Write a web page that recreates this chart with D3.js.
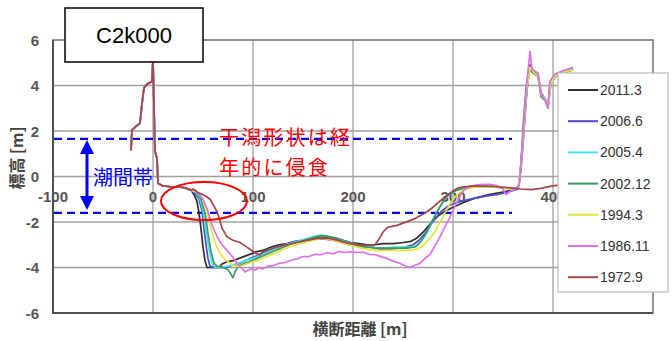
<!DOCTYPE html>
<html>
<head>
<meta charset="utf-8">
<script src="https://cdn.jsdelivr.net/npm/d3@7"></script>
<style>
  html, body { margin: 0; padding: 0; background: #fff; }
  svg { display: block; }
</style>
</head>
<body>
<svg id="chart" width="672" height="341"></svg>
<script>
// Cross-section C2k000: ground elevation [m] against cross-shore distance [m]
const sectionName = "C2k000";
const xTicks = [-100, 0, 100, 200, 300, 400];
const yTicks = [-6, -4, -2, 0, 2, 4, 6];
const seriesNames = ["2011.3", "2006.6", "2005.4", "2002.12", "1994.3", "1986.11", "1972.9"];
const seriesColors = ["#2e2e2e", "#4b4bcc", "#45e2ee", "#3f9a5e", "#e4e43c", "#e070e6", "#a4464a"];

// Intertidal zone limits [m]
const tideHigh = 1.65;
const tideLow = -1.6;

// Landward dune shared by every survey
const dune = [[-22,1.15],[-21,2.05],[-17,2.2],[-13,2.35],[-11,3.2],[-9,3.9],[-6,4.05],[-2,4.15],[-1,4.2],[0,5.15],[1,3.0],[2,1.1],[4,0.8],[5,-0.3],[9,-0.4],[17,-0.45],[25,-0.45],[32,-0.5],[38,-0.6]];

const s2011 = [[41,-0.8],[44,-1.1],[46,-1.6],[48,-2.3],[50,-3.1],[52,-3.7],[54,-4.0],[60,-4.0],[66,-4.0],[69,-3.85],[74,-3.75],[80,-3.7],[86,-3.6],[92,-3.5],[98,-3.4],[104,-3.3],[110,-3.25],[118,-3.1],[126,-3.0],[134,-2.95],[142,-2.85],[150,-2.8],[158,-2.75],[166,-2.7],[174,-2.65],[182,-2.7],[190,-2.8],[198,-2.9],[206,-2.95],[214,-3.0],[222,-3.0],[230,-2.95],[240,-2.95],[250,-2.9],[258,-2.85],[264,-2.7],[270,-2.45],[276,-2.15],[281,-1.9],[286,-1.7],[293,-1.5],[300,-1.35],[310,-1.15],[322,-0.95],[336,-0.8],[350,-0.68],[362,-0.58],[366,-0.4],[368,0.6],[371,2.3],[374,4.0],[377,4.9],[380,4.6],[385,4.5],[388,3.6],[392,3.4],[395,3.1],[397,4.1],[402,4.45],[410,4.55],[420,4.7]];

const s2006 = [[42,-0.75],[46,-1.0],[49,-1.5],[51,-2.3],[53,-3.0],[55,-3.6],[57,-3.95],[62,-4.0],[68,-4.0],[74,-4.0],[79,-3.9],[85,-3.85],[92,-3.7],[100,-3.55],[108,-3.4],[116,-3.25],[124,-3.15],[132,-3.0],[140,-2.9],[148,-2.85],[156,-2.8],[164,-2.75],[172,-2.75],[180,-2.8],[188,-2.9],[196,-3.0],[204,-3.05],[212,-3.1],[220,-3.1],[228,-3.22],[236,-3.2],[244,-3.15],[252,-3.1],[260,-3.0],[266,-2.8],[272,-2.5],[278,-2.1],[283,-1.8],[288,-1.55],[295,-1.3],[303,-1.15],[312,-1.05],[322,-0.95],[334,-0.85],[346,-0.78],[358,-0.65],[365,-0.55],[368,0.3],[371,2.0],[374,3.8],[377,4.9],[381,4.6],[385,4.5],[388,3.7],[392,3.4],[395,3.0],[398,4.2],[403,4.5],[412,4.6],[420,4.75]];

const s2005 = [[43,-0.7],[47,-1.0],[50,-1.5],[53,-2.4],[56,-3.2],[59,-3.8],[62,-4.0],[68,-4.0],[74,-3.95],[80,-3.9],[86,-3.8],[92,-3.7],[100,-3.6],[108,-3.45],[116,-3.3],[124,-3.15],[132,-3.0],[140,-2.9],[148,-2.8],[156,-2.7],[164,-2.6],[170,-2.58],[176,-2.65],[184,-2.75],[192,-2.85],[200,-2.95],[208,-3.05],[216,-3.1],[224,-3.15],[232,-3.15],[240,-3.1],[248,-3.1],[256,-3.1],[264,-3.05],[270,-2.75],[275,-2.4],[279,-1.95],[284,-1.55],[290,-1.1],[296,-0.8],[304,-0.6],[314,-0.48],[326,-0.42],[340,-0.42],[352,-0.5],[362,-0.52],[366,-0.4],[368,0.6],[371,2.3],[374,4.0],[377,4.8],[381,4.55],[385,4.45],[388,3.6],[392,3.45],[395,3.1],[398,4.15],[403,4.45],[412,4.6],[420,4.7]];

const s2002 = [[44,-0.7],[48,-1.0],[52,-1.6],[55,-2.5],[58,-3.3],[61,-3.8],[64,-3.95],[70,-4.0],[75,-4.1],[78,-4.3],[80,-4.45],[82,-4.2],[85,-3.95],[90,-3.85],[96,-3.75],[104,-3.6],[112,-3.45],[120,-3.3],[128,-3.15],[136,-3.0],[144,-2.9],[152,-2.8],[160,-2.7],[168,-2.6],[174,-2.62],[182,-2.72],[190,-2.85],[198,-2.95],[206,-3.05],[214,-3.1],[222,-3.15],[230,-3.15],[238,-3.15],[246,-3.15],[254,-3.15],[262,-3.1],[268,-2.85],[273,-2.5],[278,-2.05],[283,-1.65],[288,-1.25],[294,-0.85],[302,-0.62],[312,-0.5],[324,-0.45],[338,-0.45],[350,-0.5],[362,-0.55],[366,-0.4],[368,0.5],[370,2.2],[373,3.9],[376,4.7],[380,4.55],[385,4.4],[388,3.5],[392,3.35],[395,3.05],[398,4.1],[403,4.4],[412,4.55],[420,4.7]];

const s1994 = [[45,-0.7],[50,-1.0],[54,-1.6],[58,-2.3],[62,-2.9],[66,-3.3],[70,-3.55],[75,-3.75],[80,-3.9],[84,-3.95],[90,-3.9],[96,-3.8],[104,-3.7],[112,-3.55],[120,-3.4],[128,-3.25],[136,-3.1],[144,-3.0],[152,-2.9],[160,-2.8],[168,-2.72],[176,-2.75],[184,-2.85],[192,-2.95],[200,-3.05],[208,-3.15],[216,-3.2],[224,-3.25],[232,-3.25],[240,-3.25],[248,-3.25],[256,-3.25],[264,-3.2],[270,-3.05],[276,-2.75],[282,-2.45],[287,-2.0],[292,-1.6],[297,-1.2],[303,-0.85],[310,-0.6],[320,-0.48],[332,-0.45],[346,-0.48],[358,-0.55],[365,-0.5],[368,0.5],[371,2.2],[374,3.9],[377,4.8],[381,4.55],[385,4.45],[388,3.6],[392,3.4],[395,3.05],[398,4.1],[403,4.45],[412,4.6],[420,4.7]];

const s1986 = [[42,-0.6],[46,-0.75],[50,-1.0],[54,-1.4],[58,-2.0],[62,-2.45],[66,-2.8],[70,-3.05],[75,-3.3],[80,-3.55],[84,-3.8],[88,-4.0],[92,-4.2],[95,-4.12],[98,-4.05],[102,-4.12],[106,-4.0],[110,-4.06],[115,-3.94],[120,-3.92],[126,-3.82],[132,-3.78],[138,-3.68],[144,-3.62],[150,-3.52],[156,-3.52],[162,-3.42],[168,-3.44],[174,-3.34],[180,-3.4],[186,-3.3],[192,-3.34],[198,-3.3],[204,-3.34],[210,-3.33],[216,-3.42],[222,-3.44],[228,-3.52],[234,-3.6],[240,-3.72],[246,-3.8],[252,-3.92],[257,-4.0],[262,-3.9],[267,-3.82],[272,-3.6],[277,-3.42],[282,-3.05],[287,-2.65],[292,-2.2],[297,-1.8],[302,-1.3],[307,-0.85],[312,-0.55],[318,-0.42],[326,-0.36],[336,-0.35],[344,-0.4],[350,-0.55],[353,-0.8],[357,-0.65],[363,-0.55],[366,-0.4],[368,0.6],[371,2.4],[374,4.2],[377,5.5],[379,4.7],[385,4.55],[388,3.6],[392,3.4],[395,3.0],[397,4.2],[402,4.5],[410,4.65],[420,4.8]];

const s1972 = [[40,-0.55],[44,-0.68],[50,-0.8],[54,-0.9],[57,-1.0],[61,-1.3],[64,-1.55],[67,-1.95],[69,-2.27],[72,-2.5],[74,-2.65],[80,-2.8],[87,-2.9],[92,-3.05],[97,-3.2],[102,-3.35],[107,-3.45],[110,-3.3],[114,-3.25],[120,-3.15],[128,-3.05],[136,-2.98],[144,-2.9],[152,-2.82],[160,-2.75],[168,-2.7],[176,-2.72],[184,-2.8],[192,-2.9],[200,-2.97],[208,-3.02],[216,-3.02],[222,-3.0],[226,-2.75],[230,-2.45],[234,-2.25],[238,-2.2],[244,-2.15],[250,-2.05],[256,-1.95],[262,-1.85],[268,-1.7],[274,-1.55],[280,-1.35],[286,-1.12],[292,-0.9],[298,-0.7],[304,-0.52],[310,-0.45],[320,-0.42],[332,-0.42],[345,-0.45],[358,-0.5],[368,-0.55],[378,-0.58],[388,-0.52],[398,-0.42],[406,-0.38]];

const seriesValues = [s2011, s2006, s2005, s2002, s1994, s1986, s1972];

const svg = d3.select("#chart");
const latin = "'Liberation Sans', Arial, sans-serif";
const cjk = "'Noto Sans CJK JP', 'Noto Sans', sans-serif";

const x = d3.scaleLinear().domain([-100, 500]).range([53, 653]);
const y = d3.scaleLinear().domain([-6, 6]).range([313, 40]);

// Gridlines
svg.append("g").selectAll("line").data(yTicks.filter(v => v > -6 && v < 6)).join("line")
  .attr("x1", x(-100)).attr("x2", x(500))
  .attr("y1", d => y(d)).attr("y2", d => y(d))
  .attr("stroke", "#a0a0a0").attr("stroke-width", 1.3);
svg.append("g").selectAll("line").data([0, 100, 200, 300, 400]).join("line")
  .attr("x1", d => x(d)).attr("x2", d => x(d))
  .attr("y1", y(6)).attr("y2", y(-6))
  .attr("stroke", "#a0a0a0").attr("stroke-width", 1.3);

// Plot frame
svg.append("rect")
  .attr("x", x(-100)).attr("y", y(6))
  .attr("width", x(500) - x(-100)).attr("height", y(-6) - y(6))
  .attr("fill", "none").attr("stroke", "#707070").attr("stroke-width", 1.5);
svg.append("path")
  .attr("d", `M${x(-100)},${y(6)}V${y(-6)}H${x(500)}`)
  .attr("fill", "none").attr("stroke", "#505050").attr("stroke-width", 2);

// Y axis tick labels
svg.append("g").selectAll("text").data(yTicks).join("text")
  .attr("x", 39).attr("y", d => y(d))
  .attr("text-anchor", "end").attr("dominant-baseline", "central")
  .attr("font-family", latin).attr("font-size", 15).attr("font-weight", "bold")
  .attr("fill", "#555")
  .text(d => String(d));

// X axis tick labels, placed under the zero line
svg.append("g").selectAll("text").data(xTicks).join("text")
  .attr("x", d => x(d)).attr("y", y(0) + 20)
  .attr("text-anchor", "middle").attr("dominant-baseline", "central")
  .attr("font-family", latin).attr("font-size", 15).attr("font-weight", "bold")
  .attr("fill", "#555")
  .text(d => String(d));

// Axis titles
svg.append("text")
  .attr("x", 360).attr("y", 328)
  .attr("text-anchor", "middle").attr("dominant-baseline", "central")
  .attr("font-family", cjk).attr("font-size", 16).attr("font-weight", "bold")
  .attr("fill", "#444").text("横断距離 [m]");
svg.append("text")
  .attr("transform", "translate(16,158) rotate(-90)")
  .attr("text-anchor", "middle").attr("dominant-baseline", "central")
  .attr("font-family", cjk).attr("font-size", 16).attr("font-weight", "bold")
  .attr("fill", "#444").text("標高 [m]");

// Intertidal zone limits
svg.append("g").selectAll("line").data([tideHigh, tideLow]).join("line")
  .attr("x1", 54).attr("x2", 512)
  .attr("y1", d => y(d)).attr("y2", d => y(d))
  .attr("stroke", "#0000ff").attr("stroke-width", 2.2)
  .attr("stroke-dasharray", "8,5");

// Profiles
const line = d3.line().x(d => x(d[0])).y(d => y(d[1]));
svg.append("g").selectAll("path").data(seriesValues).join("path")
  .attr("d", d => line(dune.concat(d)))
  .attr("fill", "none")
  .attr("stroke", (d, i) => seriesColors[i])
  .attr("stroke-width", 1.7)
  .attr("stroke-linejoin", "round");

// Double arrow for the intertidal zone
const ax = 87;
const yTop = y(tideHigh) + 1, yBot = y(tideLow) - 3;
svg.append("line").attr("x1", ax).attr("x2", ax).attr("y1", yTop + 10).attr("y2", yBot - 10)
  .attr("stroke", "#0000ff").attr("stroke-width", 3);
svg.append("path").attr("d", `M${ax},${yTop}L${ax - 7},${yTop + 14}L${ax + 7},${yTop + 14}Z`).attr("fill", "#0000ff");
svg.append("path").attr("d", `M${ax},${yBot}L${ax - 7},${yBot - 14}L${ax + 7},${yBot - 14}Z`).attr("fill", "#0000ff");
svg.append("text")
  .attr("x", 93).attr("y", 176)
  .attr("dominant-baseline", "central")
  .attr("font-family", cjk).attr("font-size", 20)
  .attr("fill", "#0000ff").text("潮間帯");

// Annotation for the eroding tidal flat
svg.append("ellipse")
  .attr("cx", x(51)).attr("cy", y(-1.08)).attr("rx", 43).attr("ry", 19)
  .attr("fill", "none").attr("stroke", "#ff0000").attr("stroke-width", 2);
svg.append("text")
  .attr("x", 219).attr("y", 145)
  .attr("font-family", cjk).attr("font-size", 20).attr("letter-spacing", 2.2)
  .attr("fill", "#ff0000").text("干潟形状は経");
svg.append("text")
  .attr("x", 219).attr("y", 174.5)
  .attr("font-family", cjk).attr("font-size", 20).attr("letter-spacing", 2.2)
  .attr("fill", "#ff0000").text("年的に侵食");

// Section label box
svg.append("rect")
  .attr("x", 65).attr("y", 8).attr("width", 138).attr("height", 54)
  .attr("fill", "#fff").attr("stroke", "#000").attr("stroke-width", 1.5);
svg.append("text")
  .attr("x", 134).attr("y", 35)
  .attr("text-anchor", "middle").attr("dominant-baseline", "central")
  .attr("font-family", latin).attr("font-size", 22)
  .attr("fill", "#000").text(sectionName);

// Legend
const legend = svg.append("g");
legend.append("rect")
  .attr("x", 558).attr("y", 73).attr("width", 110).attr("height", 219)
  .attr("fill", "#fff").attr("stroke", "#bbb").attr("stroke-width", 1.2);
const items = legend.selectAll("g.item").data(seriesNames).join("g")
  .attr("class", "item")
  .attr("transform", (d, i) => `translate(0,${90 + i * 31.2})`);
items.append("line")
  .attr("x1", 568).attr("x2", 598).attr("y1", 0).attr("y2", 0)
  .attr("stroke", (d, i) => seriesColors[i]).attr("stroke-width", 2);
items.append("text")
  .attr("x", 600).attr("y", 0).attr("dominant-baseline", "central")
  .attr("font-family", latin).attr("font-size", 14)
  .attr("fill", "#333").text(d => d);
</script>
</body>
</html>
